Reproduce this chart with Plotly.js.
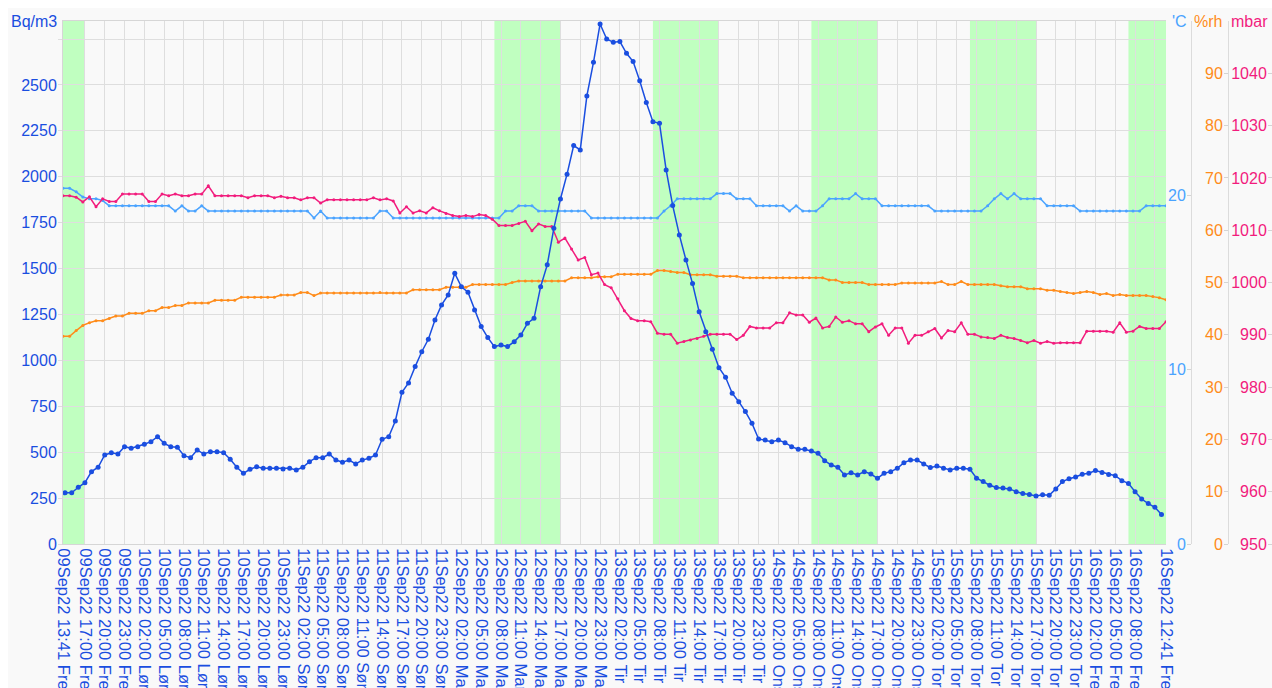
<!DOCTYPE html>
<html><head><meta charset="utf-8">
<script src="https://cdn.plot.ly/plotly-3.0.1.min.js"></script>
<style>html,body{margin:0;padding:0;background:#fff;}#chart{position:absolute;left:8px;top:8px;width:1264px;height:680px;}</style>
</head><body><div id="chart"></div><script>
// ---------- DATA ----------
const radonStart = '2022-09-09 14:00';   // hourly radon readings (Bq/m3)
const radon = [279,279,309,334,394,418,485,497,490,530,
 521,530,543,557,584,548,530,527,481,470,
 512,490,503,503,497,461,418,385,407,421,
 412,412,412,408,412,403,418,448,470,470,
 490,457,445,457,436,457,467,485,570,584,
 670,826,877,966,1047,1115,1220,1302,1356,1474,
 1401,1371,1274,1184,1124,1075,1084,1075,1102,1138,
 1202,1229,1401,1520,1719,1879,2014,2170,2146,2440,
 2623,2832,2750,2732,2736,2672,2627,2523,2404,2300,
 2291,2037,1843,1683,1547,1418,1265,1156,1060,960,
 908,821,775,721,657,572,566,557,566,552,
 530,516,516,507,494,454,430,418,376,388,
 376,394,381,358,385,394,412,443,457,457,
 436,416,425,412,403,412,412,407,358,340,
 320,308,305,300,285,275,270,262,268,265,
 300,340,355,365,380,385,400,390,378,372,
 345,330,285,245,220,200,160];

const sensorStart = '2022-09-09 13:41';  // hourly climate readings
const temperature = [20.4,20.4,20.2,19.9,19.8,19.8,19.7,19.4,19.4,19.4,
 19.4,19.4,19.4,19.4,19.4,19.4,19.4,19.1,19.4,19.1,
 19.1,19.4,19.1,19.1,19.1,19.1,19.1,19.1,19.1,19.1,
 19.1,19.1,19.1,19.1,19.1,19.1,19.1,19.1,18.7,19.1,
 18.7,18.7,18.7,18.7,18.7,18.7,18.7,18.7,19.1,19.1,
 18.7,18.7,18.7,18.7,18.7,18.7,18.7,18.7,18.7,18.7,
 18.7,18.7,18.7,18.7,18.7,18.7,18.7,19.1,19.1,19.4,
 19.4,19.4,19.1,19.1,19.1,19.1,19.1,19.1,19.1,19.1,
 18.7,18.7,18.7,18.7,18.7,18.7,18.7,18.7,18.7,18.7,
 18.7,19.1,19.4,19.8,19.8,19.8,19.8,19.8,19.8,20.1,
 20.1,20.1,19.8,19.8,19.8,19.4,19.4,19.4,19.4,19.4,
 19.1,19.4,19.1,19.1,19.1,19.4,19.8,19.8,19.8,19.8,
 20.1,19.8,19.8,19.8,19.4,19.4,19.4,19.4,19.4,19.4,
 19.4,19.4,19.1,19.1,19.1,19.1,19.1,19.1,19.1,19.1,
 19.4,19.8,20.1,19.8,20.1,19.8,19.8,19.8,19.8,19.4,
 19.4,19.4,19.4,19.4,19.1,19.1,19.1,19.1,19.1,19.1,
 19.1,19.1,19.1,19.1,19.4,19.4,19.4,19.4];

const humidity = [39.7,39.7,40.8,41.8,42.3,42.7,42.7,43.1,43.6,43.6,
 44.1,44.1,44.1,44.6,44.6,45.2,45.2,45.6,45.6,46.1,
 46.1,46.1,46.1,46.6,46.6,46.6,46.6,47.2,47.2,47.2,
 47.2,47.2,47.2,47.6,47.6,47.6,48.1,48.1,47.5,48.0,
 48.0,48.0,48.0,48.0,48.0,48.0,48.0,48.0,48.1,48.0,
 48.0,48.0,48.0,48.6,48.6,48.6,48.6,48.6,49.1,49.1,
 49.1,49.1,49.6,49.6,49.6,49.6,49.6,49.6,50.0,50.3,
 50.3,50.3,50.3,50.3,50.3,50.3,50.3,50.9,50.9,50.9,
 50.9,51.1,51.1,51.1,51.6,51.6,51.6,51.6,51.6,51.6,
 52.3,52.3,52.1,51.9,51.9,51.5,51.5,51.5,51.5,51.2,
 51.2,51.2,51.2,50.9,50.9,50.9,50.9,50.9,50.9,50.9,
 50.9,50.9,50.9,50.9,50.9,50.9,50.5,50.5,50.0,50.0,
 50.0,50.0,49.6,49.6,49.6,49.6,49.6,49.9,49.9,49.9,
 49.9,49.9,49.9,50.2,49.6,49.6,50.2,49.6,49.6,49.6,
 49.6,49.6,49.4,49.2,49.2,49.2,48.8,48.8,48.8,48.5,
 48.5,48.3,48.1,47.9,48.1,48.3,48.1,47.7,47.9,47.5,
 47.7,47.5,47.5,47.5,47.5,47.3,47.1,46.7];

const pressure = [1016.6,1016.6,1016.3,1015.4,1016.4,1014.5,1016.0,1015.5,1015.5,1016.9,
 1016.9,1016.9,1016.9,1015.5,1015.5,1016.9,1016.6,1016.9,1016.6,1016.6,
 1016.9,1016.9,1018.5,1016.6,1016.6,1016.6,1016.6,1016.6,1016.2,1016.6,
 1016.6,1016.6,1016.2,1016.5,1016.2,1016.2,1015.8,1016.2,1016.2,1015.2,
 1015.8,1015.8,1015.8,1015.8,1015.8,1015.8,1015.8,1016.2,1015.8,1016.0,
 1015.6,1013.3,1014.5,1013.3,1013.7,1013.3,1014.3,1013.7,1013.2,1012.8,
 1012.6,1012.8,1012.6,1013.0,1012.8,1012.1,1010.9,1010.9,1010.9,1011.3,
 1011.7,1009.9,1011.2,1010.7,1010.7,1007.7,1008.5,1006.4,1004.3,1004.8,
 1001.5,1001.8,999.6,999.0,996.9,994.6,993.1,992.7,992.7,992.5,
 990.3,990.1,990.1,988.4,988.7,989.0,989.3,989.7,990.1,990.1,
 990.1,990.1,989.1,989.9,991.6,991.3,991.3,991.3,992.3,992.3,
 994.2,993.8,993.8,992.4,993.2,991.3,991.6,993.4,992.4,992.7,
 992.1,992.1,990.6,991.5,992.1,989.9,991.3,991.3,988.4,989.9,
 989.9,990.6,991.2,989.4,990.8,990.6,992.3,990.1,990.1,989.6,
 989.5,989.3,989.9,989.5,989.3,988.9,988.5,988.9,988.4,988.7,
 988.4,988.5,988.5,988.5,988.5,990.7,990.7,990.7,990.7,990.5,
 992.3,990.5,990.7,991.6,991.2,991.2,991.2,992.5];

// working-hours bands (green)
const bandStarts = ['2022-09-09 13:41','2022-09-12 07:00','2022-09-13 07:00','2022-09-14 07:00','2022-09-15 07:00','2022-09-16 07:00'];
const bandEnds   = ['2022-09-09 17:00','2022-09-12 17:00','2022-09-13 17:00','2022-09-14 17:00','2022-09-15 17:00','2022-09-16 12:41'];

// axis ticks
const axisStart = '2022-09-09 13:41', axisEnd = '2022-09-16 12:41';
const firstRegularTick = '2022-09-09 17:00', lastRegularTick = '2022-09-16 11:00';
const hiddenTickLabels = ['2022-09-16 11:00'];
const monthNames = ['Jan','Feb','Mar','Apr','May','Jun','Jul','Aug','Sep','Oct','Nov','Dec'];
const dayNames = ['Søn','Man','Tir','Ons','Tor','Fre','Lør'];
const bqTicks = [0,250,500,750,1000,1250,1500,1750,2000,2250,2500,2750];
const tempTicks = [0,10,20];
const rhTicks = [0,10,20,30,40,50,60,70,80,90];
const mbarTicks = [950,960,970,980,990,1000,1010,1020,1030,1040];

// ---------- HELPERS ----------
const pad = n => String(n).padStart(2,'0');
function parse(s){const [d,t]=s.split(' ');const [Y,M,D]=d.split('-').map(Number);const [h,m]=t.split(':').map(Number);return new Date(Date.UTC(Y,M-1,D,h,m));}
function fmt(dt){return dt.getUTCFullYear()+'-'+pad(dt.getUTCMonth()+1)+'-'+pad(dt.getUTCDate())+' '+pad(dt.getUTCHours())+':'+pad(dt.getUTCMinutes());}
function lab(dt){return pad(dt.getUTCDate())+monthNames[dt.getUTCMonth()]+String(dt.getUTCFullYear()).slice(2)+' '+pad(dt.getUTCHours())+':'+pad(dt.getUTCMinutes())+' '+dayNames[dt.getUTCDay()];}
function hourly(start,n){const t0=parse(start).getTime();const out=[];for(let i=0;i<n;i++)out.push(fmt(new Date(t0+i*3600000)));return out;}

const radonX = hourly(radonStart, radon.length);
const sensorX = hourly(sensorStart, temperature.length);

const tickvals=[axisStart];
for(let t=parse(firstRegularTick).getTime(); t<=parse(lastRegularTick).getTime(); t+=3*3600000) tickvals.push(fmt(new Date(t)));
tickvals.push(axisEnd);
const ticktext = tickvals.map(v => hiddenTickLabels.includes(v) ? '' : lab(parse(v)));

// ---------- STYLE ----------
const FONT = 'Liberation Sans, Arial, sans-serif';
const cRadon='#1a4ee0', cTemp='#4aa3ff', cRh='#ff8c1a', cMbar='#f21c7d';
const grid='#dedede';
const xEnd = 1103/1209;

const traces = [
 {x:[],y:[],xaxis:'x',yaxis:'y',showlegend:false,hoverinfo:'skip'},
 {x:sensorX,y:pressure,yaxis:'y4',mode:'lines+markers',line:{color:cMbar,width:1.5},marker:{size:3,color:cMbar},name:'mbar'},
 {x:sensorX,y:humidity,yaxis:'y3',mode:'lines+markers',line:{color:cRh,width:1.5},marker:{size:3,color:cRh},name:'%rh'},
 {x:sensorX,y:temperature,yaxis:'y2',mode:'lines+markers',line:{color:cTemp,width:1.5},marker:{size:3,color:cTemp},name:"'C"},
 {x:radonX,y:radon,yaxis:'y5',mode:'lines+markers',line:{color:cRadon,width:1.5},marker:{size:5,color:cRadon},name:'Bq/m3'}
];

const shapes = bandStarts.map((s,i)=>({type:'rect',xref:'x',yref:'paper',x0:s,x1:bandEnds[i],y0:0,y1:1,fillcolor:'#c0ffc0',line:{width:0},layer:'below'}));

function rAxis(color,ticks,range,pos,side){
 return {overlaying:'y',anchor:'free',position:pos,side:side,range:range,tickvals:ticks,showgrid:false,zeroline:false,
   ticks:'outside',ticklen:4,tickcolor:'#d4d4d4',showline:true,linecolor:'#dcdcdc',ticklabelstandoff:-2,
   tickfont:{family:FONT,size:16,color:color},fixedrange:true,automargin:false};
}

const layout = {
 width:1264,height:680,
 margin:{l:55,r:0,t:13,b:144},
 paper_bgcolor:'#f9f9f9',plot_bgcolor:'#f9f9f9',
 showlegend:false,
 font:{family:FONT,size:16,color:cRadon},
 xaxis:{type:'date',domain:[0,xEnd],range:[axisStart,axisEnd],tickvals:tickvals,ticktext:ticktext,tickangle:90,
   showgrid:true,gridcolor:grid,gridwidth:1,zeroline:false,ticks:'',showline:true,mirror:true,linecolor:'#d6d6d6',
   tickfont:{family:FONT,size:16.5,color:cRadon},automargin:false},
 yaxis:{range:[0,2848],tickvals:bqTicks,ticktext:bqTicks.map(v=>v===2750?'':String(v)),showgrid:true,gridcolor:grid,zeroline:false,
   ticks:'outside',ticklen:4,tickcolor:grid,showline:true,linecolor:'#d6d6d6',ticklabelstandoff:-2,
   tickfont:{family:FONT,size:16,color:cRadon},automargin:false},
 yaxis2:rAxis(cTemp,tempTicks,[0,30],0.933,'left'),
 yaxis3:rAxis(cRh,rhTicks,[0,100],0.9636,'left'),
 yaxis4:Object.assign(rAxis(cMbar,mbarTicks,[950,1050],1.0,'left'),{showline:false}),
 yaxis5:{overlaying:'y',range:[0,2848],visible:false,fixedrange:true},
 shapes:shapes,
 annotations:[
  {text:'Bq/m3',xref:'paper',yref:'paper',x:0,y:1,xanchor:'right',yanchor:'middle',xshift:-4,showarrow:false,font:{family:FONT,size:16,color:cRadon}},
  {text:"'C",xref:'paper',yref:'paper',x:0.933,y:1,xanchor:'right',yanchor:'middle',xshift:-2,showarrow:false,font:{family:FONT,size:16,color:cTemp}},
  {text:'%rh',xref:'paper',yref:'paper',x:0.9636,y:1,xanchor:'right',yanchor:'middle',xshift:-4,showarrow:false,font:{family:FONT,size:16,color:cRh}},
  {text:'mbar',xref:'paper',yref:'paper',x:1,y:1,xanchor:'right',yanchor:'middle',xshift:-2,showarrow:false,font:{family:FONT,size:16,color:cMbar}}
 ]
};

Plotly.newPlot('chart',traces,layout,{staticPlot:true,displayModeBar:false});
</script></body></html>
